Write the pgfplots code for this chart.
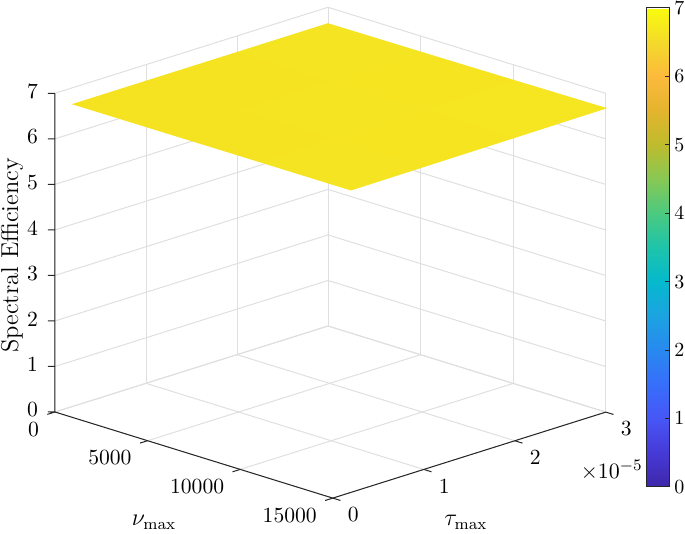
\documentclass[border=0pt]{standalone}
\usepackage{pgfplots}
\pgfplotsset{compat=1.18}
\pgfplotsset{
  colormap={parulaish}{
    rgb255(0cm)=(62,38,168);
    rgb255(1cm)=(70,58,215);
    rgb255(2cm)=(71,86,246);
    rgb255(3cm)=(55,110,250);
    rgb255(4cm)=(40,137,240);
    rgb255(5cm)=(28,163,225);
    rgb255(6cm)=(5,185,205);
    rgb255(7cm)=(30,196,170);
    rgb255(8cm)=(75,202,128);
    rgb255(9cm)=(135,200,85);
    rgb255(10cm)=(190,188,45);
    rgb255(11cm)=(228,180,45);
    rgb255(12cm)=(252,186,60);
    rgb255(13cm)=(244,218,42);
    rgb255(14cm)=(249,251,14)
  }
}
\definecolor{axcol}{RGB}{38,38,38}
\definecolor{gridcol}{RGB}{223,223,223}
\pgfplotstableread{
tau nu se
0.2 0 6.635
0.2 5000 6.637
0.2 10000 6.639
0.2 15000 6.640

1 0 6.637
1 5000 6.640
1 10000 6.645
1 15000 6.650

2 0 6.639
2 5000 6.643
2 10000 6.652
2 15000 6.662

3 0 6.641
3 5000 6.648
3 10000 6.660
3 15000 6.675
}\setable
\begin{document}
\begin{tikzpicture}
\useasboundingbox (-27.5pt,-61pt) rectangle (315pt,206pt);
\coordinate (cbtop) at (295.5pt,202pt);
\begin{axis}[
  at={(0pt,0pt)}, anchor=origin,
  x={(45.5pt,14.333pt)},
  y={(-0.0092667pt,0.0028667pt)},
  y dir=reverse,
  z={(0pt,22.765pt)},
  xmin=0, xmax=3, ymin=0, ymax=15000, zmin=0, zmax=7,
  clip=false,
  scaled x ticks=false, scaled y ticks=false, scaled z ticks=false,
  xtick={0,1,2,3}, xticklabels={0,1,2,3},
  ytick={0,5000,10000,15000}, yticklabels={0,5000,10000,15000},
  ztick={0,1,...,7}, zticklabels={0,1,2,3,4,5,6,7},
  tick pos=left,
  grid=major,
  grid style={draw=gridcol, line width=0.5pt},
  axis line style={draw=none},
  tick style={draw=none},
  tick align=outside,
  major tick length=3.5pt,
  tick label style={font=\fontsize{10.8}{12}\selectfont, text=black, inner sep=0pt},
  xticklabel style={anchor=north west, xshift=4pt, yshift=-3.5pt},
  yticklabel style={anchor=north east, xshift=-4.5pt, yshift=-3.6pt},
  zticklabel style={anchor=east, xshift=-5pt},
  every axis z label/.style={at={(axis cs:0,0,3.44)}, xshift=-21.5pt, rotate=90, anchor=center, font=\fontsize{12.2}{14}\selectfont},
  zlabel={Spectral Efficiency},
  colormap name=parulaish,
  point meta min=0, point meta max=7,
  colorbar,
  colorbar shift/.style={},
  colorbar style={
    at={(cbtop)}, anchor=north west,
    scale only axis,
    width=11.5pt, height=239.5pt,
    ymin=0, ymax=7,
    ytick={0,1,...,7},
    yticklabel pos=right,
    ytick pos=right,
    axis line style={draw=axcol, line width=0.5pt},
    tick style={draw=axcol, line width=0.5pt},
    tick align=inside,
    major tick length=2pt,
    yticklabel style={font=\fontsize{10.2}{12}\selectfont, inner sep=0pt, anchor=west, xshift=2.5pt},
  },
]
\addplot3[surf, shader=flat, draw=none] table[x=tau, y=nu, z=se] {\setable};
% axis lines
\draw[axcol, line width=0.5pt] (axis cs:0,0,7) -- (axis cs:0,0,0) -- (axis cs:0,15000,0) -- (axis cs:3,15000,0);
% tick marks
\draw[axcol, line width=0.5pt]
  (axis cs:0,0,0) -- ++(-3.5pt,0pt)
  (axis cs:0,0,1) -- ++(-3.5pt,0pt)
  (axis cs:0,0,2) -- ++(-3.5pt,0pt)
  (axis cs:0,0,3) -- ++(-3.5pt,0pt)
  (axis cs:0,0,4) -- ++(-3.5pt,0pt)
  (axis cs:0,0,5) -- ++(-3.5pt,0pt)
  (axis cs:0,0,6) -- ++(-3.5pt,0pt)
  (axis cs:0,0,7) -- ++(-3.5pt,0pt)
  (axis cs:0,0,0) -- ++(-3.82pt,-1.2pt)
  (axis cs:0,5000,0) -- ++(-3.82pt,-1.2pt)
  (axis cs:0,10000,0) -- ++(-3.82pt,-1.2pt)
  (axis cs:0,15000,0) -- ++(-3.82pt,-1.2pt)
  (axis cs:0,15000,0) -- ++(3.82pt,-1.18pt)
  (axis cs:1,15000,0) -- ++(3.82pt,-1.18pt)
  (axis cs:2,15000,0) -- ++(3.82pt,-1.18pt)
  (axis cs:3,15000,0) -- ++(3.82pt,-1.18pt);
% axis labels and exponent
\node[font=\fontsize{11.6}{13}\selectfont] at (axis cs:0.302,20700,0) {$\tau_{\max}$};
\node[font=\fontsize{11.6}{13}\selectfont] at (axis cs:-1.396,12200,0) {$\nu_{\max}$};
\node[font=\fontsize{10.8}{12}\selectfont] at (axis cs:2.011,20180,0) {$\times10^{-5}$};
\end{axis}
\end{tikzpicture}
\end{document}
